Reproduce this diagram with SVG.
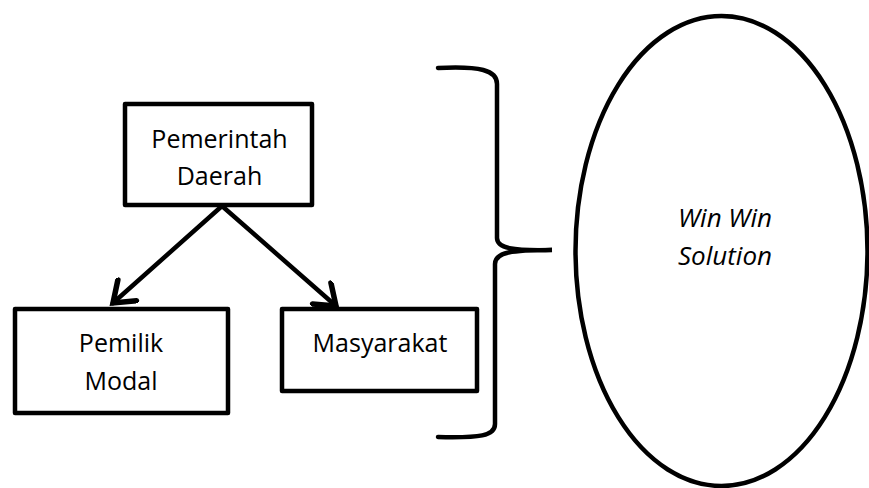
<svg xmlns="http://www.w3.org/2000/svg" width="869" height="488" viewBox="0 0 869 488">
  <style>
    .box { fill: #ffffff; stroke: #000000; stroke-width: 4.5; stroke-linejoin: round; }
    .lbl { font-family: "Open Sans", "Liberation Sans", sans-serif; font-size: 25px; fill: #000000; text-anchor: middle; }
    .ital { font-style: italic; font-size: 26px; }
    .edge { fill: none; stroke: #000000; stroke-width: 4.5; stroke-linecap: round; }
  </style>
  <defs>
    <marker id="arrow" markerUnits="userSpaceOnUse" markerWidth="32" markerHeight="32" viewBox="-25 -16 32 32" refX="0" refY="0" orient="auto">
      <path d="M-19,-14 L0,0 L-19,14" fill="none" stroke="#000000" stroke-width="5.5" stroke-linecap="round" stroke-linejoin="miter"/>
    </marker>
  </defs>
  <rect width="869" height="488" fill="#ffffff"/>

  <g id="connectors">
    <line class="edge" x1="222" y1="206" x2="113" y2="303" marker-end="url(#arrow)"/>
    <line class="edge" x1="222" y1="206" x2="336" y2="306" marker-end="url(#arrow)"/>
    <path class="edge" d="M438,68 C480,66 497,70 497,84 L497,238 C497,248 512,251 552,250 C512,250 495,252 495,264 L495,424 C495,436 480,438 438,437"/>
  </g>

  <g id="pemerintah-daerah">
    <rect class="box" x="125" y="104" width="187" height="101"/>
    <text class="lbl" x="219.5" y="148">Pemerintah</text>
    <text class="lbl" x="219.5" y="185">Daerah</text>
  </g>

  <g id="pemilik-modal">
    <rect class="box" x="15" y="309" width="213" height="104"/>
    <text class="lbl" x="121" y="352">Pemilik</text>
    <text class="lbl" x="121" y="390">Modal</text>
  </g>

  <g id="masyarakat">
    <rect class="box" x="282" y="309" width="195" height="82"/>
    <text class="lbl" x="380" y="352">Masyarakat</text>
  </g>

  <g id="win-win-solution">
    <ellipse cx="721.5" cy="251" rx="146" ry="235" fill="#ffffff" stroke="#000000" stroke-width="4.5"/>
    <text class="lbl ital" x="725" y="227">Win Win</text>
    <text class="lbl ital" x="725" y="265">Solution</text>
  </g>
</svg>
